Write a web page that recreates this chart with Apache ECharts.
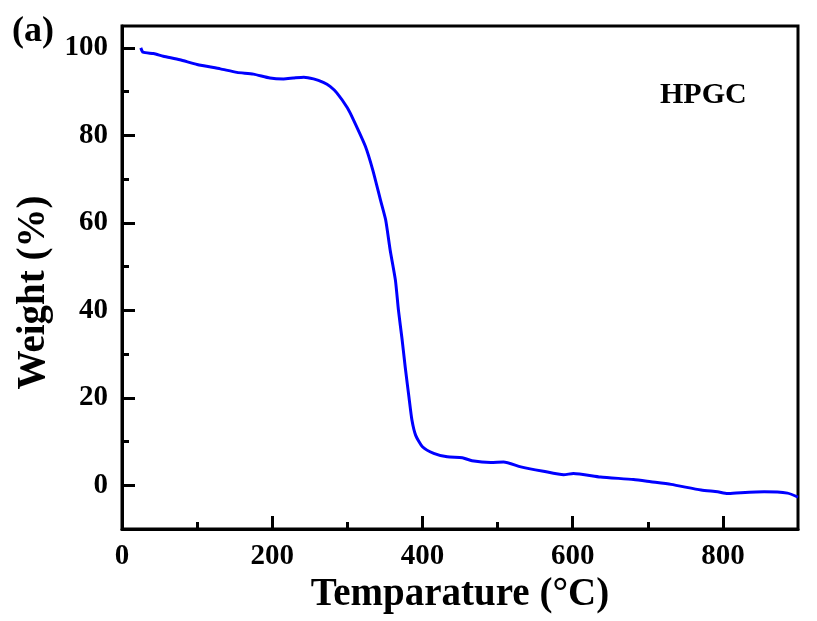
<!DOCTYPE html>
<html>
<head>
<meta charset="utf-8">
<script src="https://cdn.jsdelivr.net/npm/echarts@6/dist/echarts.min.js"></script>
<style>
  html, body { margin: 0; padding: 0; background: #fff; }
  #main { width: 817px; height: 621px; }
</style>
</head>
<body>
<div id="main"></div>
<script>
// TGA curve of HPGC
var temps = [25, 28, 42, 55, 77, 100, 131, 153, 175, 197, 215, 228, 242, 255, 268, 277, 286, 300, 308, 324, 334,
  344, 351, 357, 364, 368, 373, 377, 382, 386, 391, 400, 415, 433, 453, 466, 491, 508, 531, 561, 588, 601, 637,
  681, 704, 731, 771, 793, 806, 824, 855, 886, 900];
var weights = [100.0, 99.0, 98.7, 98.1, 97.3, 96.2, 95.2, 94.4, 94.0, 93.1, 92.9, 93.1, 93.3, 92.9, 92.1, 91.2, 89.7, 86.3, 83.6, 77.5, 72.0,
  65.3, 60.7, 53.8, 46.9, 40.1, 33.2, 27.1, 20.2, 14.9, 11.4, 8.8, 7.3, 6.5, 6.3, 5.6, 5.2, 5.3, 4.2, 3.2, 2.4, 2.7, 1.9,
  1.3, 0.8, 0.2, -1.1, -1.5, -1.9, -1.7, -1.5, -1.8, -2.7];

var xMajor = [0, 200, 400, 600, 800];
var xMinor = [100, 300, 500, 700];
var yMajor = [0, 20, 40, 60, 80, 100];
var yMinor = [-10, 10, 30, 50, 70, 90];

var serif = "'Liberation Serif', 'Times New Roman', serif";

var chartDom = document.getElementById("main");
var myChart = echarts.init(chartDom);

var option = {
  backgroundColor: "#fff",
  animation: false,
  grid: { left: 122, right: 19, top: 26, bottom: 92, show: true, borderColor: "#000", borderWidth: 3, backgroundColor: "transparent" },
  xAxis: [
    {
      type: "value", min: 0, max: 900,
      name: "Temparature (\u00B0C)", nameLocation: "middle", nameGap: 37,
      nameTextStyle: { fontFamily: serif, fontWeight: "bold", fontSize: 39, color: "#000" },
      axisLine: { show: true, onZero: false, lineStyle: { color: "#000", width: 3 } },
      axisTick: { show: true, inside: true, length: 13, lineStyle: { color: "#000", width: 3 }, customValues: xMajor },
      axisLabel: { show: true, margin: 13, fontFamily: serif, fontWeight: "bold", fontSize: 29, color: "#000", customValues: xMajor },
      splitLine: { show: false }
    },
    {
      type: "value", min: 0, max: 900, position: "bottom",
      axisLine: { show: false, onZero: false },
      axisTick: { show: true, inside: true, length: 7, lineStyle: { color: "#000", width: 3 }, customValues: xMinor },
      axisLabel: { show: false },
      splitLine: { show: false }
    }
  ],
  yAxis: [
    {
      type: "value", min: -10, max: 105,
      name: "Weight (%)", nameLocation: "middle", nameGap: 62,
      nameTextStyle: { fontFamily: serif, fontWeight: "bold", fontSize: 39, color: "#000", padding: [0, 30, 0, 0] },
      axisLine: { show: true, onZero: false, lineStyle: { color: "#000", width: 3 } },
      axisTick: { show: true, inside: true, length: 13, lineStyle: { color: "#000", width: 3 }, customValues: yMajor },
      axisLabel: { show: true, margin: 14, fontFamily: serif, fontWeight: "bold", fontSize: 29, color: "#000", customValues: yMajor },
      splitLine: { show: false }
    },
    {
      type: "value", min: -10, max: 105, position: "left",
      axisLine: { show: false, onZero: false },
      axisTick: { show: true, inside: true, length: 7, lineStyle: { color: "#000", width: 3 }, customValues: yMinor },
      axisLabel: { show: false },
      splitLine: { show: false }
    }
  ],
  graphic: [
    { type: "text", left: 12, top: 14, style: { text: "(a)", font: "bold 36px " + serif, fill: "#000" } },
    { type: "text", left: 660, top: 80, style: { text: "HPGC", font: "bold 30px " + serif, fill: "#000" } }
  ],
  series: [
    {
      type: "line",
      xAxisIndex: 0, yAxisIndex: 0,
      data: temps.map(function (t, i) { return [t, weights[i]]; }),
      showSymbol: false,
      smooth: 0.2,
      lineStyle: { color: "#0000ff", width: 3 },
      itemStyle: { color: "#0000ff" }
    }
  ]
};

option && myChart.setOption(option);
</script>
</body>
</html>
